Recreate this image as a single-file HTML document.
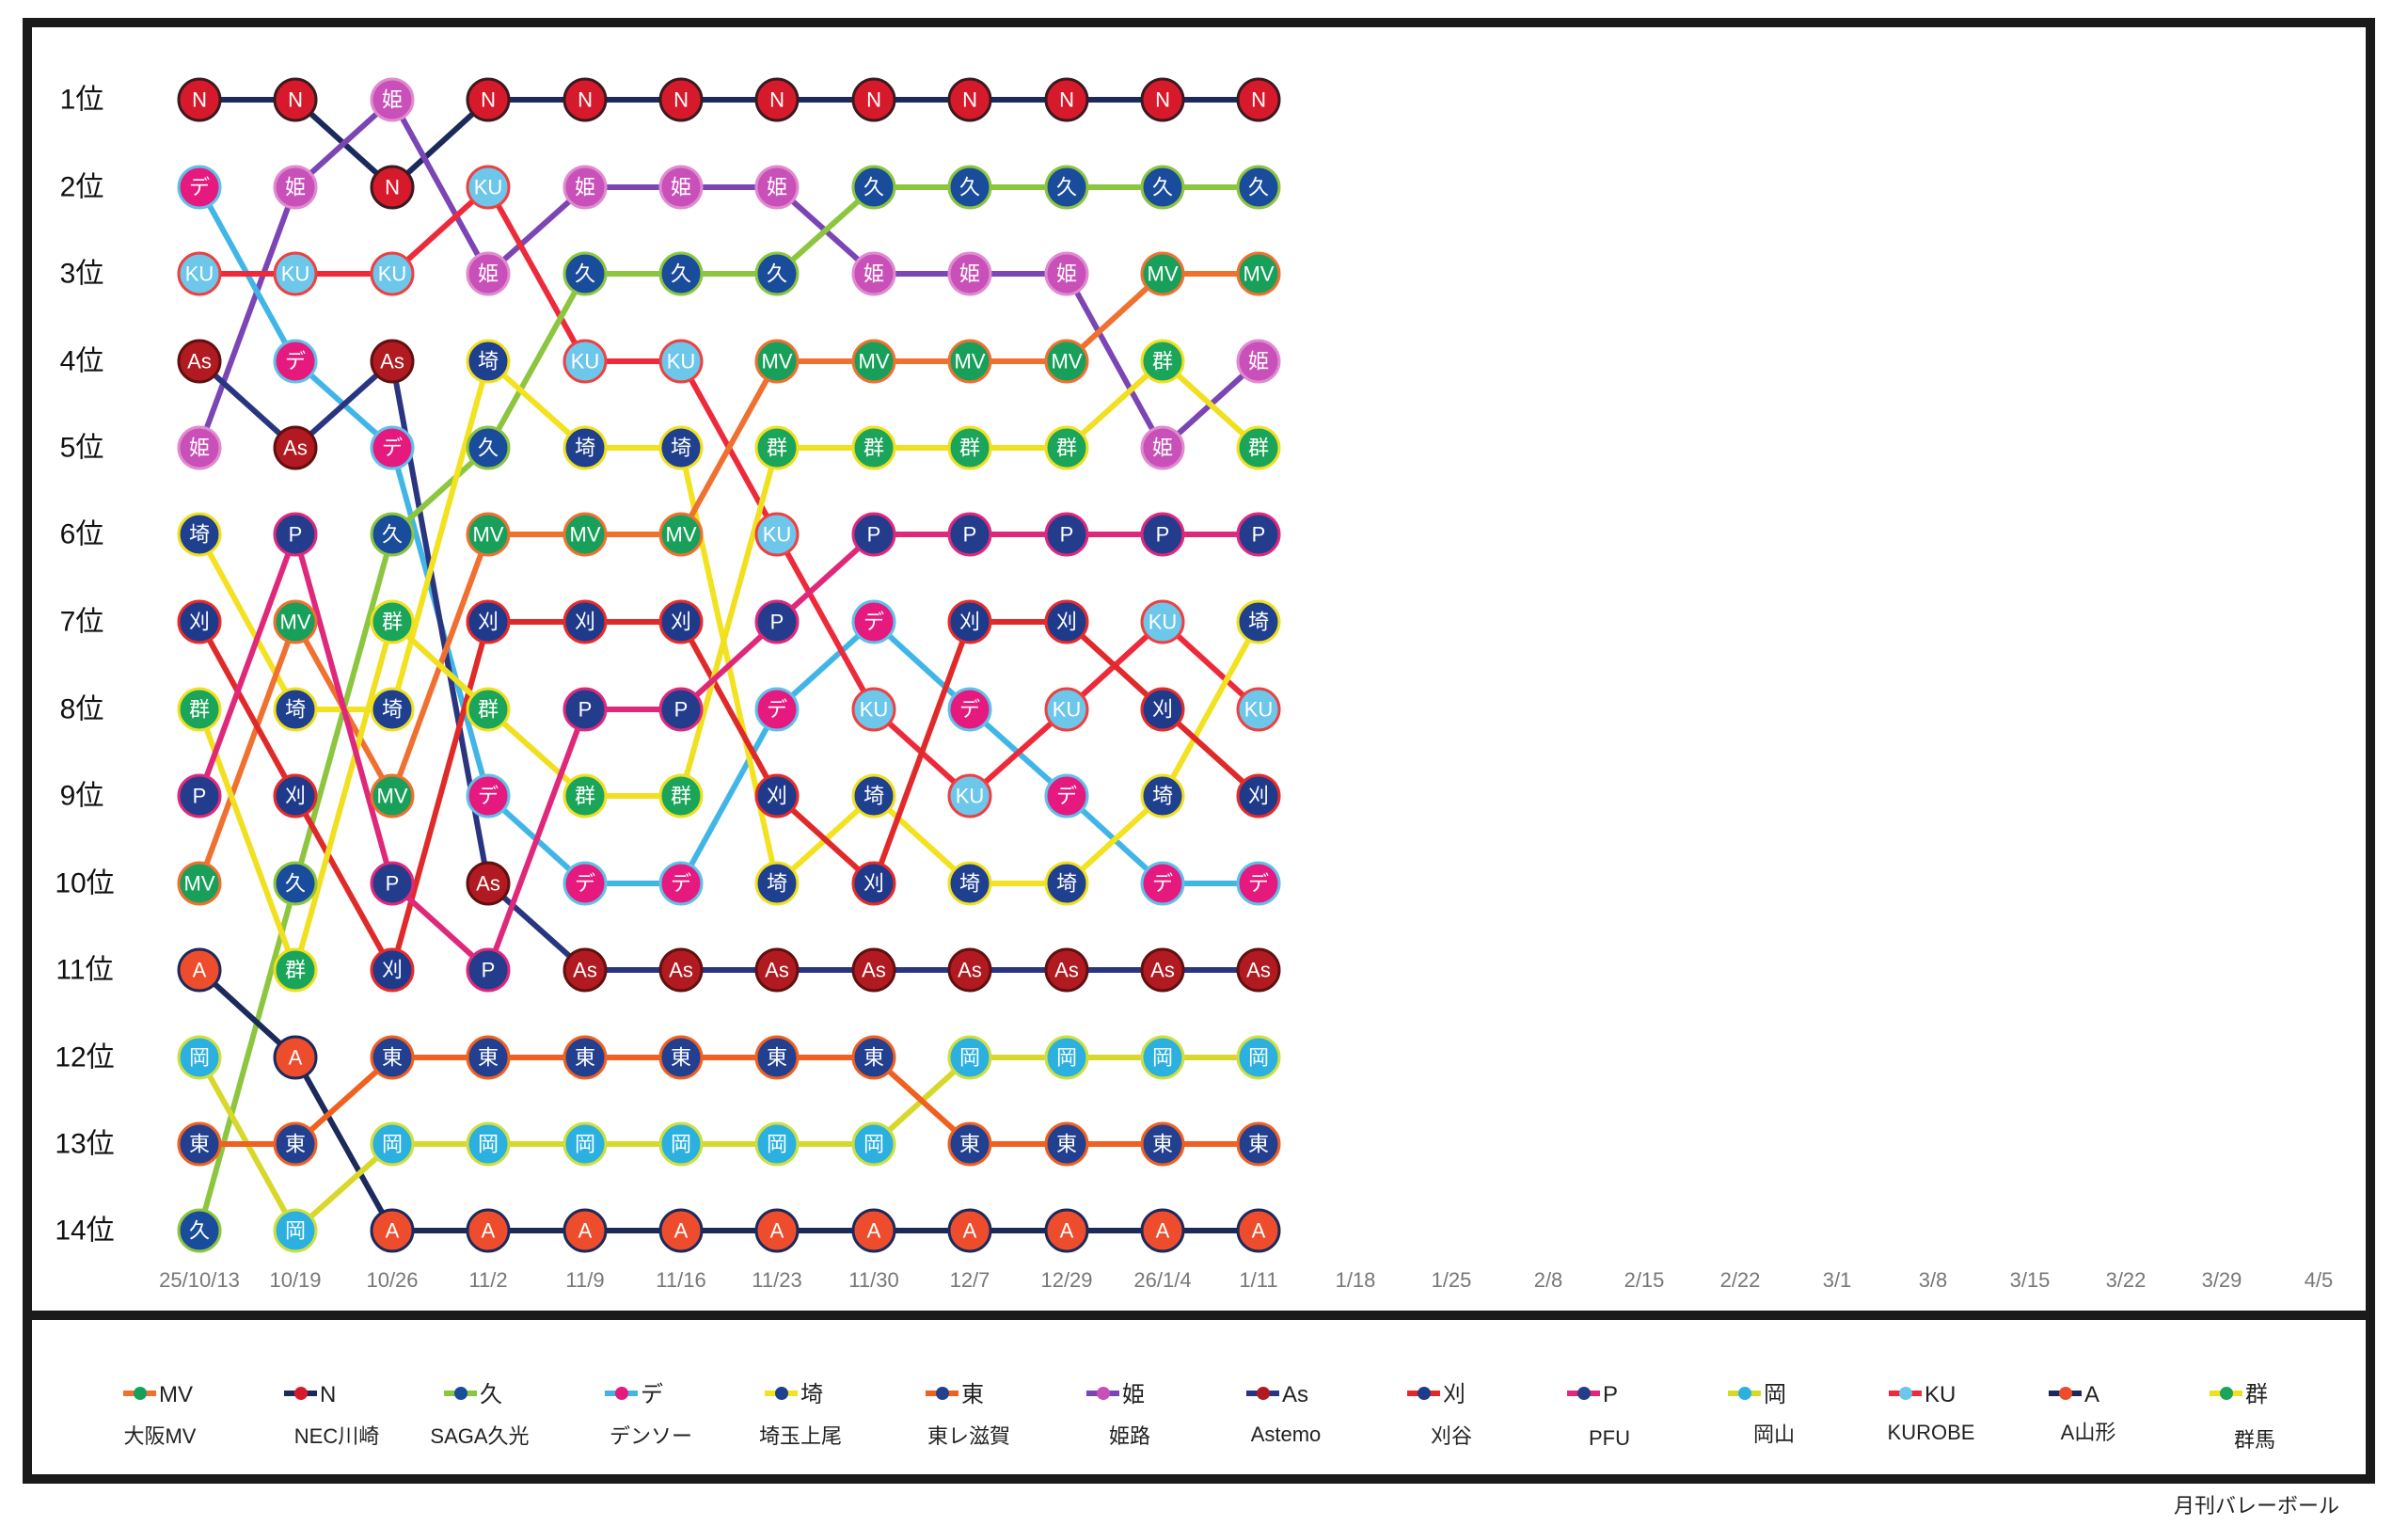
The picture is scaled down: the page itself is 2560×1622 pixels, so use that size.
<!DOCTYPE html>
<html><head><meta charset="utf-8"><style>
body{margin:0;background:#fff}
svg{display:block}
circle{r:22px;stroke-width:3}
.lab text,.c text{font-family:"Liberation Sans","Noto Sans CJK JP",sans-serif}
.c text{fill:#fff;font-size:22px;text-anchor:middle;dominant-baseline:central}
.n{fill:#d71a2b;stroke:#3a1a20}.hi{fill:#c850b8;stroke:#e08ad0}.de{fill:#e6197f;stroke:#5fc0ea}
.ku{fill:#6cc7ea;stroke:#ee4040}.as{fill:#b01a20;stroke:#601010}.q{fill:#1a4c9c;stroke:#8cc63f}
.sa{fill:#1f3f8f;stroke:#f0e020}.mv{fill:#18a05a;stroke:#f07030}.ka{fill:#1f3a8a;stroke:#e82a2a}
.gu{fill:#1ba55a;stroke:#f0e020}.p{fill:#243c8c;stroke:#e0287a}.a{fill:#ee4d2d;stroke:#1b2a5a}
.ok{fill:#2bb0e0;stroke:#cde040}.to{fill:#22408f;stroke:#f06020}
polyline{fill:none;stroke-width:6;stroke-linejoin:round}
</style></head><body>
<svg width="2560" height="1622" viewBox="0 0 2560 1622" xmlns="http://www.w3.org/2000/svg">
<rect x="29" y="24" width="2491" height="1548" fill="#fff" stroke="#1a1a1a" stroke-width="10"/>
<rect x="29" y="1393" width="2491" height="10" fill="#1a1a1a"/>
<g class="lab" font-size="30" fill="#111" text-anchor="middle" dominant-baseline="central">
<text x="87" y="106">1位</text><text x="87" y="199">2位</text><text x="87" y="291">3位</text><text x="87" y="384">4位</text><text x="87" y="476">5位</text><text x="87" y="568">6位</text><text x="87" y="661">7位</text><text x="87" y="754">8位</text><text x="87" y="846">9位</text><text x="90" y="939">10位</text><text x="90" y="1031">11位</text><text x="90" y="1124">12位</text><text x="90" y="1216">13位</text><text x="90" y="1308">14位</text>
</g>
<g class="lab" font-size="22" fill="#777" text-anchor="middle">
<text x="212" y="1368">25/10/13</text><text x="314" y="1368">10/19</text><text x="417" y="1368">10/26</text><text x="519" y="1368">11/2</text><text x="622" y="1368">11/9</text><text x="724" y="1368">11/16</text><text x="826" y="1368">11/23</text><text x="929" y="1368">11/30</text><text x="1031" y="1368">12/7</text><text x="1134" y="1368">12/29</text><text x="1236" y="1368">26/1/4</text><text x="1338" y="1368">1/11</text><text x="1441" y="1368">1/18</text><text x="1543" y="1368">1/25</text><text x="1646" y="1368">2/8</text><text x="1748" y="1368">2/15</text><text x="1850" y="1368">2/22</text><text x="1953" y="1368">3/1</text><text x="2055" y="1368">3/8</text><text x="2158" y="1368">3/15</text><text x="2260" y="1368">3/22</text><text x="2362" y="1368">3/29</text><text x="2465" y="1368">4/5</text>
</g>
<g>
<polyline stroke="#1b2a5a" points="212,106 314,106 417,199 519,106 622,106 724,106 826,106 929,106 1031,106 1134,106 1236,106 1338,106"/>
<polyline stroke="#7b45b4" points="212,476 314,199 417,106 519,291 622,199 724,199 826,199 929,291 1031,291 1134,291 1236,476 1338,384"/>
<polyline stroke="#41b6e6" points="212,199 314,384 417,476 519,846 622,939 724,939 826,754 929,661 1031,754 1134,846 1236,939 1338,939"/>
<polyline stroke="#ee2a3a" points="212,291 314,291 417,291 519,199 622,384 724,384 826,568 929,754 1031,846 1134,754 1236,661 1338,754"/>
<polyline stroke="#2a3580" points="212,384 314,476 417,384 519,939 622,1031 724,1031 826,1031 929,1031 1031,1031 1134,1031 1236,1031 1338,1031"/>
<polyline stroke="#8cc63f" points="212,1308 314,939 417,568 519,476 622,291 724,291 826,291 929,199 1031,199 1134,199 1236,199 1338,199"/>
<polyline stroke="#f2e21f" points="212,568 314,754 417,754 519,384 622,476 724,476 826,939 929,846 1031,939 1134,939 1236,846 1338,661"/>
<polyline stroke="#f07030" points="212,939 314,661 417,846 519,568 622,568 724,568 826,384 929,384 1031,384 1134,384 1236,291 1338,291"/>
<polyline stroke="#e02a2a" points="212,661 314,846 417,1031 519,661 622,661 724,661 826,846 929,939 1031,661 1134,661 1236,754 1338,846"/>
<polyline stroke="#f0e020" points="212,754 314,1031 417,661 519,754 622,846 724,846 826,476 929,476 1031,476 1134,476 1236,384 1338,476"/>
<polyline stroke="#e0287a" points="212,846 314,568 417,939 519,1031 622,754 724,754 826,661 929,568 1031,568 1134,568 1236,568 1338,568"/>
<polyline stroke="#1b2a5a" points="212,1031 314,1124 417,1308 519,1308 622,1308 724,1308 826,1308 929,1308 1031,1308 1134,1308 1236,1308 1338,1308"/>
<polyline stroke="#d8d82a" points="212,1124 314,1308 417,1216 519,1216 622,1216 724,1216 826,1216 929,1216 1031,1124 1134,1124 1236,1124 1338,1124"/>
<polyline stroke="#f06020" points="212,1216 314,1216 417,1124 519,1124 622,1124 724,1124 826,1124 929,1124 1031,1216 1134,1216 1236,1216 1338,1216"/>
</g>
<g class="c" transform="translate(212,0)">
<circle class="n" cy="106"/><text y="106">N</text><circle class="de" cy="199"/><text y="199">デ</text><circle class="ku" cy="291"/><text y="291">KU</text><circle class="as" cy="384"/><text y="384">As</text><circle class="hi" cy="476"/><text y="476">姫</text><circle class="sa" cy="568"/><text y="568">埼</text><circle class="ka" cy="661"/><text y="661">刈</text><circle class="gu" cy="754"/><text y="754">群</text><circle class="p" cy="846"/><text y="846">P</text><circle class="mv" cy="939"/><text y="939">MV</text><circle class="a" cy="1031"/><text y="1031">A</text><circle class="ok" cy="1124"/><text y="1124">岡</text><circle class="to" cy="1216"/><text y="1216">東</text><circle class="q" cy="1308"/><text y="1308">久</text>
</g>
<g class="c" transform="translate(314,0)">
<circle class="n" cy="106"/><text y="106">N</text><circle class="hi" cy="199"/><text y="199">姫</text><circle class="ku" cy="291"/><text y="291">KU</text><circle class="de" cy="384"/><text y="384">デ</text><circle class="as" cy="476"/><text y="476">As</text><circle class="p" cy="568"/><text y="568">P</text><circle class="mv" cy="661"/><text y="661">MV</text><circle class="sa" cy="754"/><text y="754">埼</text><circle class="ka" cy="846"/><text y="846">刈</text><circle class="q" cy="939"/><text y="939">久</text><circle class="gu" cy="1031"/><text y="1031">群</text><circle class="a" cy="1124"/><text y="1124">A</text><circle class="to" cy="1216"/><text y="1216">東</text><circle class="ok" cy="1308"/><text y="1308">岡</text>
</g>
<g class="c" transform="translate(417,0)">
<circle class="hi" cy="106"/><text y="106">姫</text><circle class="n" cy="199"/><text y="199">N</text><circle class="ku" cy="291"/><text y="291">KU</text><circle class="as" cy="384"/><text y="384">As</text><circle class="de" cy="476"/><text y="476">デ</text><circle class="q" cy="568"/><text y="568">久</text><circle class="gu" cy="661"/><text y="661">群</text><circle class="sa" cy="754"/><text y="754">埼</text><circle class="mv" cy="846"/><text y="846">MV</text><circle class="p" cy="939"/><text y="939">P</text><circle class="ka" cy="1031"/><text y="1031">刈</text><circle class="to" cy="1124"/><text y="1124">東</text><circle class="ok" cy="1216"/><text y="1216">岡</text><circle class="a" cy="1308"/><text y="1308">A</text>
</g>
<g class="c" transform="translate(519,0)">
<circle class="n" cy="106"/><text y="106">N</text><circle class="ku" cy="199"/><text y="199">KU</text><circle class="hi" cy="291"/><text y="291">姫</text><circle class="sa" cy="384"/><text y="384">埼</text><circle class="q" cy="476"/><text y="476">久</text><circle class="mv" cy="568"/><text y="568">MV</text><circle class="ka" cy="661"/><text y="661">刈</text><circle class="gu" cy="754"/><text y="754">群</text><circle class="de" cy="846"/><text y="846">デ</text><circle class="as" cy="939"/><text y="939">As</text><circle class="p" cy="1031"/><text y="1031">P</text><circle class="to" cy="1124"/><text y="1124">東</text><circle class="ok" cy="1216"/><text y="1216">岡</text><circle class="a" cy="1308"/><text y="1308">A</text>
</g>
<g class="c" transform="translate(622,0)">
<circle class="n" cy="106"/><text y="106">N</text><circle class="hi" cy="199"/><text y="199">姫</text><circle class="q" cy="291"/><text y="291">久</text><circle class="ku" cy="384"/><text y="384">KU</text><circle class="sa" cy="476"/><text y="476">埼</text><circle class="mv" cy="568"/><text y="568">MV</text><circle class="ka" cy="661"/><text y="661">刈</text><circle class="p" cy="754"/><text y="754">P</text><circle class="gu" cy="846"/><text y="846">群</text><circle class="de" cy="939"/><text y="939">デ</text><circle class="as" cy="1031"/><text y="1031">As</text><circle class="to" cy="1124"/><text y="1124">東</text><circle class="ok" cy="1216"/><text y="1216">岡</text><circle class="a" cy="1308"/><text y="1308">A</text>
</g>
<g class="c" transform="translate(724,0)">
<circle class="n" cy="106"/><text y="106">N</text><circle class="hi" cy="199"/><text y="199">姫</text><circle class="q" cy="291"/><text y="291">久</text><circle class="ku" cy="384"/><text y="384">KU</text><circle class="sa" cy="476"/><text y="476">埼</text><circle class="mv" cy="568"/><text y="568">MV</text><circle class="ka" cy="661"/><text y="661">刈</text><circle class="p" cy="754"/><text y="754">P</text><circle class="gu" cy="846"/><text y="846">群</text><circle class="de" cy="939"/><text y="939">デ</text><circle class="as" cy="1031"/><text y="1031">As</text><circle class="to" cy="1124"/><text y="1124">東</text><circle class="ok" cy="1216"/><text y="1216">岡</text><circle class="a" cy="1308"/><text y="1308">A</text>
</g>
<g class="c" transform="translate(826,0)">
<circle class="n" cy="106"/><text y="106">N</text><circle class="hi" cy="199"/><text y="199">姫</text><circle class="q" cy="291"/><text y="291">久</text><circle class="mv" cy="384"/><text y="384">MV</text><circle class="gu" cy="476"/><text y="476">群</text><circle class="ku" cy="568"/><text y="568">KU</text><circle class="p" cy="661"/><text y="661">P</text><circle class="de" cy="754"/><text y="754">デ</text><circle class="ka" cy="846"/><text y="846">刈</text><circle class="sa" cy="939"/><text y="939">埼</text><circle class="as" cy="1031"/><text y="1031">As</text><circle class="to" cy="1124"/><text y="1124">東</text><circle class="ok" cy="1216"/><text y="1216">岡</text><circle class="a" cy="1308"/><text y="1308">A</text>
</g>
<g class="c" transform="translate(929,0)">
<circle class="n" cy="106"/><text y="106">N</text><circle class="q" cy="199"/><text y="199">久</text><circle class="hi" cy="291"/><text y="291">姫</text><circle class="mv" cy="384"/><text y="384">MV</text><circle class="gu" cy="476"/><text y="476">群</text><circle class="p" cy="568"/><text y="568">P</text><circle class="de" cy="661"/><text y="661">デ</text><circle class="ku" cy="754"/><text y="754">KU</text><circle class="sa" cy="846"/><text y="846">埼</text><circle class="ka" cy="939"/><text y="939">刈</text><circle class="as" cy="1031"/><text y="1031">As</text><circle class="to" cy="1124"/><text y="1124">東</text><circle class="ok" cy="1216"/><text y="1216">岡</text><circle class="a" cy="1308"/><text y="1308">A</text>
</g>
<g class="c" transform="translate(1031,0)">
<circle class="n" cy="106"/><text y="106">N</text><circle class="q" cy="199"/><text y="199">久</text><circle class="hi" cy="291"/><text y="291">姫</text><circle class="mv" cy="384"/><text y="384">MV</text><circle class="gu" cy="476"/><text y="476">群</text><circle class="p" cy="568"/><text y="568">P</text><circle class="ka" cy="661"/><text y="661">刈</text><circle class="de" cy="754"/><text y="754">デ</text><circle class="ku" cy="846"/><text y="846">KU</text><circle class="sa" cy="939"/><text y="939">埼</text><circle class="as" cy="1031"/><text y="1031">As</text><circle class="ok" cy="1124"/><text y="1124">岡</text><circle class="to" cy="1216"/><text y="1216">東</text><circle class="a" cy="1308"/><text y="1308">A</text>
</g>
<g class="c" transform="translate(1134,0)">
<circle class="n" cy="106"/><text y="106">N</text><circle class="q" cy="199"/><text y="199">久</text><circle class="hi" cy="291"/><text y="291">姫</text><circle class="mv" cy="384"/><text y="384">MV</text><circle class="gu" cy="476"/><text y="476">群</text><circle class="p" cy="568"/><text y="568">P</text><circle class="ka" cy="661"/><text y="661">刈</text><circle class="ku" cy="754"/><text y="754">KU</text><circle class="de" cy="846"/><text y="846">デ</text><circle class="sa" cy="939"/><text y="939">埼</text><circle class="as" cy="1031"/><text y="1031">As</text><circle class="ok" cy="1124"/><text y="1124">岡</text><circle class="to" cy="1216"/><text y="1216">東</text><circle class="a" cy="1308"/><text y="1308">A</text>
</g>
<g class="c" transform="translate(1236,0)">
<circle class="n" cy="106"/><text y="106">N</text><circle class="q" cy="199"/><text y="199">久</text><circle class="mv" cy="291"/><text y="291">MV</text><circle class="gu" cy="384"/><text y="384">群</text><circle class="hi" cy="476"/><text y="476">姫</text><circle class="p" cy="568"/><text y="568">P</text><circle class="ku" cy="661"/><text y="661">KU</text><circle class="ka" cy="754"/><text y="754">刈</text><circle class="sa" cy="846"/><text y="846">埼</text><circle class="de" cy="939"/><text y="939">デ</text><circle class="as" cy="1031"/><text y="1031">As</text><circle class="ok" cy="1124"/><text y="1124">岡</text><circle class="to" cy="1216"/><text y="1216">東</text><circle class="a" cy="1308"/><text y="1308">A</text>
</g>
<g class="c" transform="translate(1338,0)">
<circle class="n" cy="106"/><text y="106">N</text><circle class="q" cy="199"/><text y="199">久</text><circle class="mv" cy="291"/><text y="291">MV</text><circle class="hi" cy="384"/><text y="384">姫</text><circle class="gu" cy="476"/><text y="476">群</text><circle class="p" cy="568"/><text y="568">P</text><circle class="sa" cy="661"/><text y="661">埼</text><circle class="ku" cy="754"/><text y="754">KU</text><circle class="ka" cy="846"/><text y="846">刈</text><circle class="de" cy="939"/><text y="939">デ</text><circle class="as" cy="1031"/><text y="1031">As</text><circle class="ok" cy="1124"/><text y="1124">岡</text><circle class="to" cy="1216"/><text y="1216">東</text><circle class="a" cy="1308"/><text y="1308">A</text>
</g>
<g class="lab" font-size="24" fill="#222">
<g transform="translate(176,0)"><line x1="-45" x2="-10" y1="1481" y2="1481" stroke="#f07030" stroke-width="6"/><circle cx="-27" cy="1481" r="7" style="r:7px" fill="#18a05a"/><text x="-7" y="1490">MV</text></g>
<g transform="translate(347,0)"><line x1="-45" x2="-10" y1="1481" y2="1481" stroke="#1b2a5a" stroke-width="6"/><circle cx="-27" cy="1481" style="r:7px" fill="#d71a2b"/><text x="-7" y="1490">N</text></g>
<g transform="translate(517,0)"><line x1="-45" x2="-10" y1="1481" y2="1481" stroke="#8cc63f" stroke-width="6"/><circle cx="-27" cy="1481" style="r:7px" fill="#1a4c9c"/><text x="-7" y="1490">久</text></g>
<g transform="translate(688,0)"><line x1="-45" x2="-10" y1="1481" y2="1481" stroke="#41b6e6" stroke-width="6"/><circle cx="-27" cy="1481" style="r:7px" fill="#e6197f"/><text x="-7" y="1490">デ</text></g>
<g transform="translate(858,0)"><line x1="-45" x2="-10" y1="1481" y2="1481" stroke="#f2e21f" stroke-width="6"/><circle cx="-27" cy="1481" style="r:7px" fill="#1f3f8f"/><text x="-7" y="1490">埼</text></g>
<g transform="translate(1029,0)"><line x1="-45" x2="-10" y1="1481" y2="1481" stroke="#f06020" stroke-width="6"/><circle cx="-27" cy="1481" style="r:7px" fill="#22408f"/><text x="-7" y="1490">東</text></g>
<g transform="translate(1200,0)"><line x1="-45" x2="-10" y1="1481" y2="1481" stroke="#7b45b4" stroke-width="6"/><circle cx="-27" cy="1481" style="r:7px" fill="#c850b8"/><text x="-7" y="1490">姫</text></g>
<g transform="translate(1370,0)"><line x1="-45" x2="-10" y1="1481" y2="1481" stroke="#2a3580" stroke-width="6"/><circle cx="-27" cy="1481" style="r:7px" fill="#b01a20"/><text x="-7" y="1490">As</text></g>
<g transform="translate(1541,0)"><line x1="-45" x2="-10" y1="1481" y2="1481" stroke="#e02a2a" stroke-width="6"/><circle cx="-27" cy="1481" style="r:7px" fill="#1f3a8a"/><text x="-7" y="1490">刈</text></g>
<g transform="translate(1711,0)"><line x1="-45" x2="-10" y1="1481" y2="1481" stroke="#e0287a" stroke-width="6"/><circle cx="-27" cy="1481" style="r:7px" fill="#243c8c"/><text x="-7" y="1490">P</text></g>
<g transform="translate(1882,0)"><line x1="-45" x2="-10" y1="1481" y2="1481" stroke="#d8d82a" stroke-width="6"/><circle cx="-27" cy="1481" style="r:7px" fill="#2bb0e0"/><text x="-7" y="1490">岡</text></g>
<g transform="translate(2053,0)"><line x1="-45" x2="-10" y1="1481" y2="1481" stroke="#ee2a3a" stroke-width="6"/><circle cx="-27" cy="1481" style="r:7px" fill="#6cc7ea"/><text x="-7" y="1490">KU</text></g>
<g transform="translate(2223,0)"><line x1="-45" x2="-10" y1="1481" y2="1481" stroke="#1b2a5a" stroke-width="6"/><circle cx="-27" cy="1481" style="r:7px" fill="#ee4d2d"/><text x="-7" y="1490">A</text></g>
<g transform="translate(2394,0)"><line x1="-45" x2="-10" y1="1481" y2="1481" stroke="#f0e020" stroke-width="6"/><circle cx="-27" cy="1481" style="r:7px" fill="#1ba55a"/><text x="-7" y="1490">群</text></g>
</g>
<g class="lab" font-size="22" fill="#222" text-anchor="middle">
<text x="170" y="1534">大阪MV</text><text x="358" y="1534">NEC川崎</text><text x="510" y="1534">SAGA久光</text><text x="692" y="1534">デンソー</text><text x="851" y="1534">埼玉上尾</text><text x="1030" y="1534">東レ滋賀</text><text x="1201" y="1534">姫路</text><text x="1367" y="1532">Astemo</text><text x="1543" y="1534">刈谷</text><text x="1711" y="1536">PFU</text><text x="1886" y="1532">岡山</text><text x="2053" y="1530">KUROBE</text><text x="2220" y="1530">A山形</text><text x="2397" y="1538">群馬</text>
</g>
<text class="lab" x="2487" y="1608" font-size="22" fill="#222" text-anchor="end" font-family="Liberation Sans, Noto Sans CJK JP, sans-serif">月刊バレーボール</text>
</svg>
</body></html>
